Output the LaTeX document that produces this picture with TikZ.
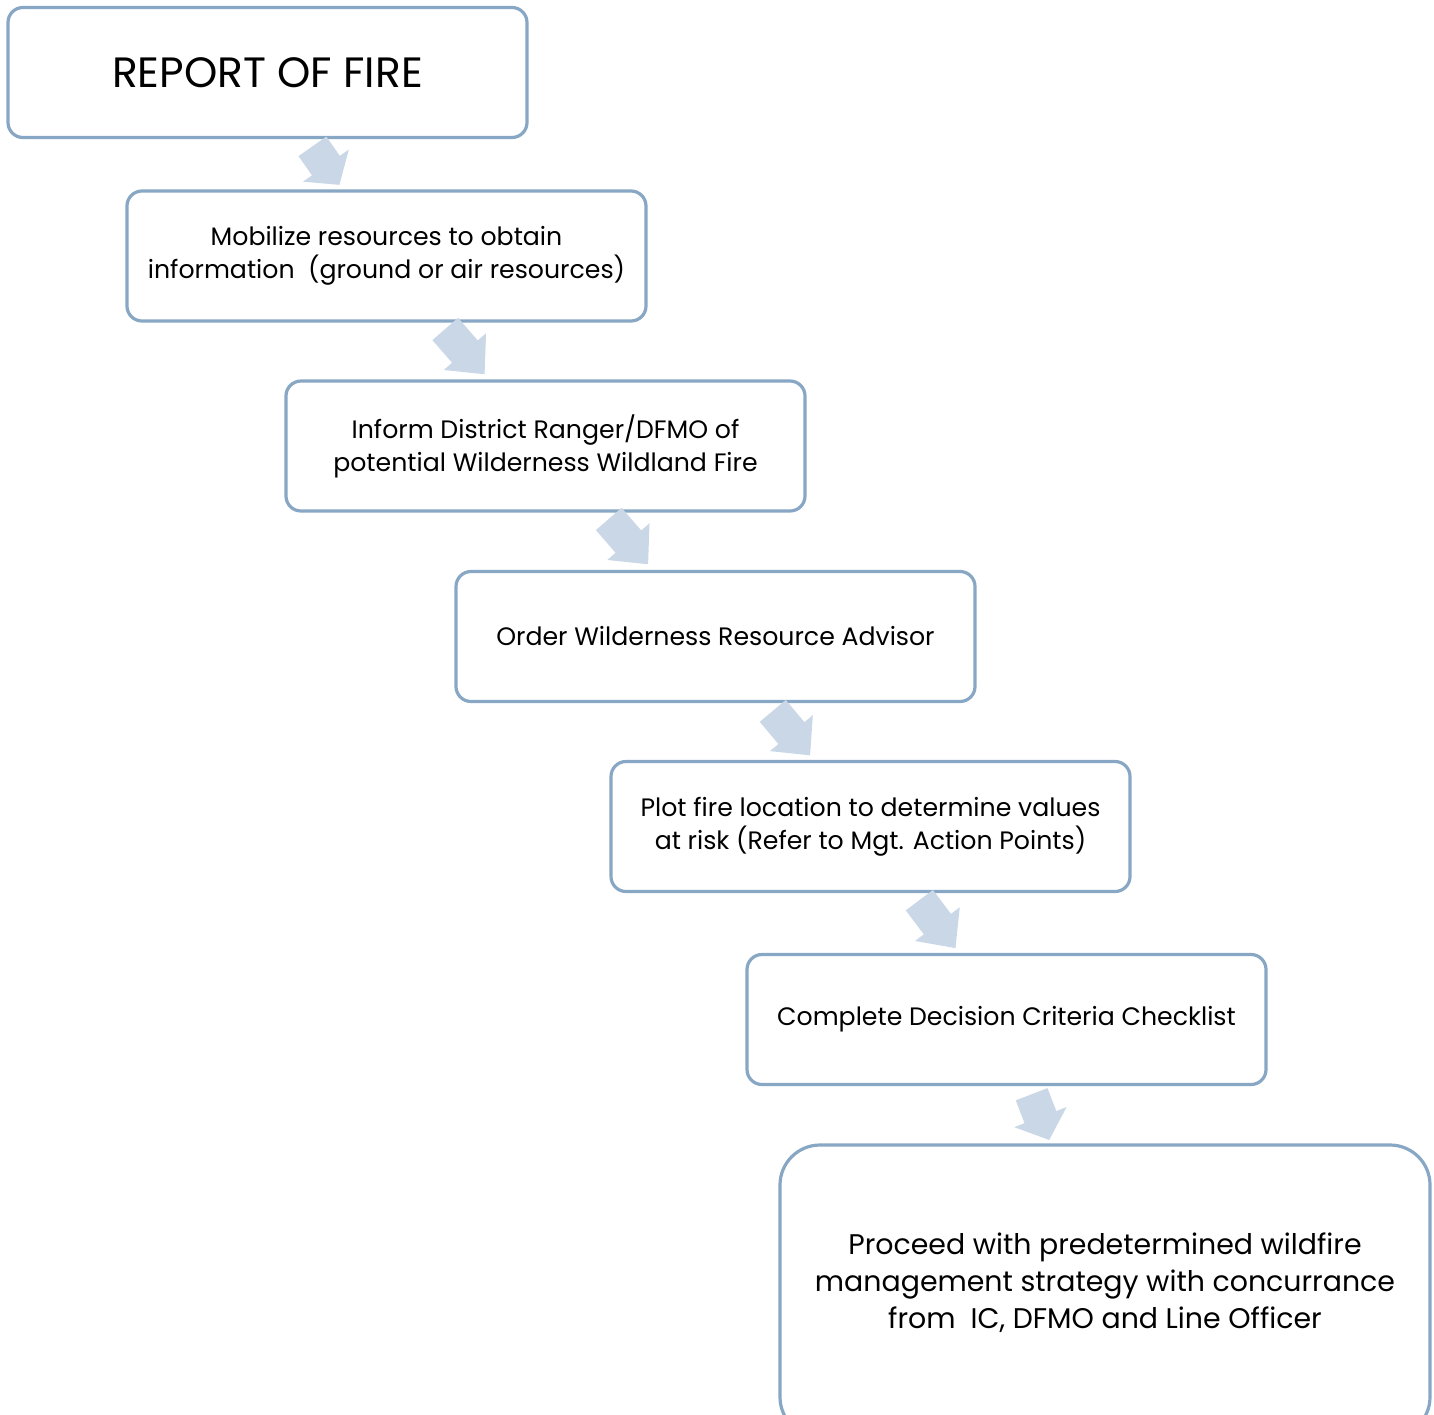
\documentclass[tikz,border=0pt]{standalone}
\usepackage{fontspec}
\setmainfont{Poppins}
\usetikzlibrary{calc}
\definecolor{boxline}{HTML}{87A7C4}
\definecolor{arrowfill}{HTML}{C9D7E6}
\tikzset{
	pics/blockarrow/.style={code={
		\fill[arrowfill] (-#1/2,-17) -- (0,-17) -- (0,-28) -- (#1/2,0) -- (0,28) -- (0,17) -- (-#1/2,17) -- cycle;
	}}
}
\begin{document}
\begin{tikzpicture}[x=0.5pt, y=-0.5pt, font=\fontsize{12.6}{16.5}\selectfont]
    \tikzstyle{stepbox}=[draw=boxline, line width=1.6pt, rectangle, rounded corners=7.5pt, minimum width=259.5pt, minimum height=65pt, inner sep=0pt, align=center]
    \clip (0,0) rectangle (1434,1414);

	% steps
	\node[stepbox, font=\fontsize{21.2}{25}\selectfont] (b1) at (267.5,72.5) {REPORT OF FIRE};
	\node[stepbox] (b2) at (386.5,256) {Mobilize resources to obtain\\information\ \ (ground or air resources)};
	\node[stepbox] (b3) at (545.5,446) {Inform District Ranger/DFMO of\\potential Wilderness Wildland Fire};
	\node[stepbox] (b4) at (715.5,636.5) {Order Wilderness Resource Advisor};
	\node[stepbox] (b5) at (870.5,826.5) {Plot fire location to determine values\\at risk (Refer to Mgt. Action Points)};
	\node[stepbox] (b6) at (1006.5,1019.5) {Complete Decision Criteria Checklist};
	\node[stepbox, rounded corners=20pt, minimum width=325pt, minimum height=146pt, text depth=10pt, font=\fontsize{14.2}{18.5}\selectfont] (b7) at (1105,1291) {Proceed with predetermined wildfire\\management strategy with concurrance\\from\ \ IC, DFMO and Line Officer};

	% arrows between the steps
	\pic[rotate=-55] at ($(b1.south west)+(319.5,26.5)$) {blockarrow=47};
	\pic[rotate=-49] at ($(b2.south west)+(339.5,29)$) {blockarrow=60};
	\pic[rotate=-49] at ($(b3.south west)+(344,29)$) {blockarrow=60};
	\pic[rotate=-50] at ($(b4.south west)+(337,30)$) {blockarrow=58};
	\pic[rotate=-53] at ($(b5.south west)+(328,31)$) {blockarrow=60};
	\pic[rotate=-69] at ($(b6.south west)+(295,31)$) {blockarrow=49};
\end{tikzpicture}
\end{document}
